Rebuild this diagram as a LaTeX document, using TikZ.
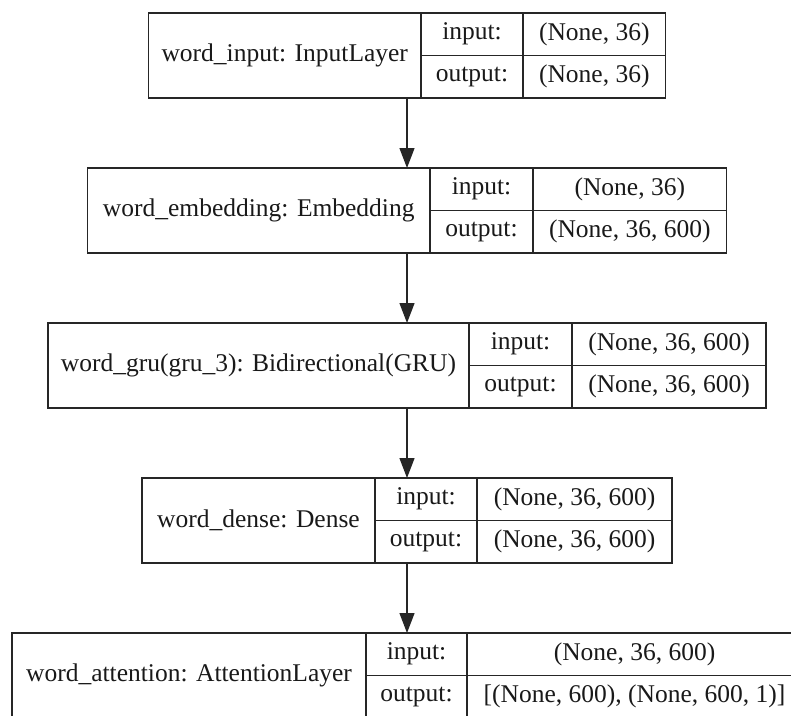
\documentclass[tikz,border=0pt]{standalone}
\usepackage{fontspec}
\setmainfont{Liberation Serif}
\usetikzlibrary{arrows.meta}

% One Keras layer drawn as a record: name | input:/output: | shapes
% #1 node name, #2 top edge, #3 left edge, #4 first divider, #5 second divider,
% #6 right edge, #7 layer label, #8 input shape, #9 output shape
\newcommand\kerasrecord[9]{%
  \node[rec, minimum width={(#4-#3)*1pt}, minimum height=85pt]
    (#1-name) at ({(#3+#4)/2},{#2+42.5}) {#7};
  \node[rec, minimum width={(#5-#4)*1pt}, minimum height=42.5pt]
    (#1-inl) at ({(#4+#5)/2},{#2+21.25}) {input:};
  \node[rec, minimum width={(#5-#4)*1pt}, minimum height=42.5pt]
    (#1-outl) at ({(#4+#5)/2},{#2+63.75}) {output:};
  \node[rec, minimum width={(#6-#5)*1pt}, minimum height=42.5pt]
    (#1-inv) at ({(#5+#6)/2},{#2+21.25}) {#8};
  \node[rec, minimum width={(#6-#5)*1pt}, minimum height=42.5pt]
    (#1-outv) at ({(#5+#6)/2},{#2+63.75}) {#9};
  \node[inner sep=0pt, outer sep=0pt, minimum width={(#6-#3)*1pt}, minimum height=85pt]
    (#1) at ({(#3+#6)/2},{#2+42.5}) {};
}

\tikzset{
  rec/.style={draw=black!85, line width=1.2pt, rectangle, inner sep=0pt,
    outer sep=0pt, text=black!90, font=\fontsize{25.5}{30}\selectfont},
  flow/.style={draw=black!85, line width=1.2pt,
    -{Triangle[length=20pt,width=15pt]}},
}

\begin{document}
\begin{tikzpicture}[x=1pt,y=-1pt]
  \useasboundingbox (0,0) rectangle (791,715);
  \clip (0,0) rectangle (791,715);
  \fill[white] (0,0) rectangle (791,715);

  \kerasrecord{input}{13}{148.5}{421}{523}{665.5}
    {word\_input: InputLayer}{(None, 36)}{(None, 36)}
  \kerasrecord{embed}{168}{87.5}{430}{533}{726.5}
    {word\_embedding: Embedding}{(None, 36)}{(None, 36, 600)}
  \kerasrecord{gru}{323}{48}{469}{572}{766}
    {word\_gru(gru\_3): Bidirectional(GRU)}{(None, 36, 600)}{(None, 36, 600)}
  \kerasrecord{dense}{478}{142}{375}{477}{672}
    {word\_dense: Dense}{(None, 36, 600)}{(None, 36, 600)}
  \kerasrecord{attn}{633}{12}{366}{467}{802}
    {word\_attention: AttentionLayer}{(None, 36, 600)}{[(None, 600), (None, 600, 1)]}

  \draw[flow] (input.south) -- (embed.north);
  \draw[flow] (embed.south) -- (gru.north);
  \draw[flow] (gru.south) -- (dense.north);
  \draw[flow] (dense.south) -- (attn.north);
\end{tikzpicture}
\end{document}
